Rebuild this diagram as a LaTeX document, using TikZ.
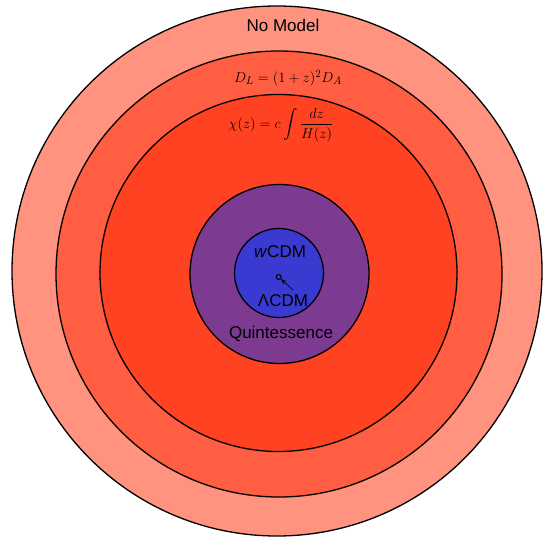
\documentclass[tikz,border=0pt]{standalone}
\usepackage{amsmath}
\usepackage{fontspec}
\setsansfont{Liberation Sans}
\usetikzlibrary{arrows.meta}
\definecolor{ringA}{RGB}{255,147,128}
\definecolor{ringB}{RGB}{255,94,66}
\definecolor{ringC}{RGB}{255,66,34}
\definecolor{ringD}{RGB}{125,58,145}
\definecolor{ringE}{RGB}{58,58,210}
\begin{document}
\begin{tikzpicture}[x=1pt,y=-1pt,
  ring/.style={circle, draw=black, line width=1.3pt, inner sep=0pt, outer sep=0pt},
  lab/.style={font=\sffamily\fontsize{17}{20}\selectfont, anchor=base, inner sep=0pt},
  mlab/.style={font=\fontsize{15.8}{18}\selectfont, inner sep=0pt}]
\useasboundingbox (0,0) rectangle (546,537);
\node[ring, fill=ringA, minimum size=530pt] (r1) at (277,271) {};
\node[ring, fill=ringB, minimum size=446pt] (r2) at (279,274) {};
\node[ring, fill=ringC, minimum size=357pt] (r3) at (278.5,273) {};
\node[ring, fill=ringD, minimum size=179pt] (r4) at (279.5,274) {};
\node[ring, fill=ringE, minimum size=89pt] (r5) at (279,273) {};
\node[circle, draw=black, line width=1pt, fill=ringE, minimum size=5pt, inner sep=0pt] (dot) at (278.7,277) {};
\node[lab] (nomodel) at (283,32) {No Model};
\node[mlab] (dl) at (288,78) {$D_L=(1+z)^2D_A$};
\node[mlab] (chi) at (281,125) {$\displaystyle\chi(z)=c\int\frac{dz}{H(z)}$};
\node[lab] (wcdm) at (280,258) {\textit{w}CDM};
\node[lab] (lcdm) at (283,306) {ΛCDM};
\node[lab] (quint) at (281,338) {Quintessence};
\coordinate (lt) at (293,290);
\draw[line width=0.7pt, -{Stealth[length=5.5pt,width=4.5pt]}] (lt) -- (dot);
\end{tikzpicture}
\end{document}
